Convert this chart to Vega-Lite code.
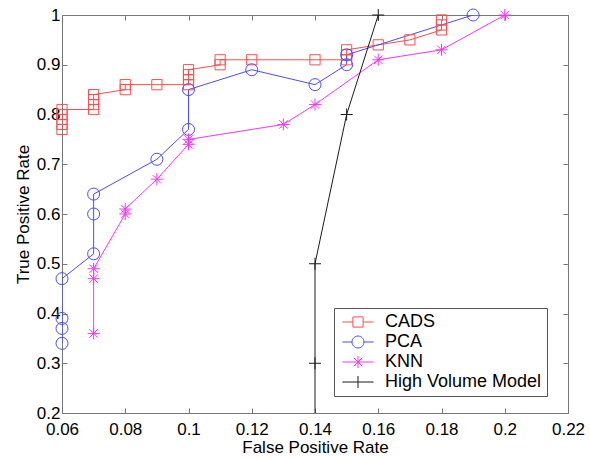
{
  "$schema": "https://vega.github.io/schema/vega-lite/v6.json",
  "width": 506,
  "height": 398,
  "autosize": "none",
  "padding": {"left": 62, "top": 15, "right": 22, "bottom": 47},
  "background": "white",
  "config": {
    "view": {"stroke": "#777777", "strokeWidth": 1},
    "font": "Liberation Sans",
    "axis": {
      "grid": false,
      "domain": false,
      "tickColor": "#777777",
      "tickSize": -5,
      "labelFontSize": 17,
      "labelColor": "black",
      "labelFont": "Liberation Sans",
      "titleFont": "Liberation Sans",
      "titleFontSize": 17,
      "titleFontWeight": "normal",
      "titleColor": "black"
    },
    "legend": {
      "orient": "none",
      "legendX": 272,
      "legendY": 293,
      "title": null,
      "fillColor": "white",
      "strokeColor": "#555555",
      "padding": 5,
      "symbolSize": 144,
      "symbolStrokeWidth": 1,
      "symbolOffset": 10,
      "labelOffset": 18,
      "labelFontSize": 18,
      "labelFont": "Liberation Sans",
      "labelColor": "black",
      "rowPadding": 2
    }
  },
  "data": {
    "values": [
      {"method": "CADS", "fpr": 0.06, "tpr": 0.77, "ord": 1},
      {"method": "CADS", "fpr": 0.06, "tpr": 0.78, "ord": 2},
      {"method": "CADS", "fpr": 0.06, "tpr": 0.79, "ord": 3},
      {"method": "CADS", "fpr": 0.06, "tpr": 0.80, "ord": 4},
      {"method": "CADS", "fpr": 0.06, "tpr": 0.81, "ord": 5},
      {"method": "CADS", "fpr": 0.07, "tpr": 0.81, "ord": 6},
      {"method": "CADS", "fpr": 0.07, "tpr": 0.82, "ord": 7},
      {"method": "CADS", "fpr": 0.07, "tpr": 0.83, "ord": 8},
      {"method": "CADS", "fpr": 0.07, "tpr": 0.84, "ord": 9},
      {"method": "CADS", "fpr": 0.08, "tpr": 0.85, "ord": 10},
      {"method": "CADS", "fpr": 0.08, "tpr": 0.86, "ord": 11},
      {"method": "CADS", "fpr": 0.09, "tpr": 0.86, "ord": 12},
      {"method": "CADS", "fpr": 0.10, "tpr": 0.86, "ord": 13},
      {"method": "CADS", "fpr": 0.10, "tpr": 0.87, "ord": 14},
      {"method": "CADS", "fpr": 0.10, "tpr": 0.88, "ord": 15},
      {"method": "CADS", "fpr": 0.10, "tpr": 0.89, "ord": 16},
      {"method": "CADS", "fpr": 0.11, "tpr": 0.90, "ord": 17},
      {"method": "CADS", "fpr": 0.11, "tpr": 0.91, "ord": 18},
      {"method": "CADS", "fpr": 0.12, "tpr": 0.91, "ord": 19},
      {"method": "CADS", "fpr": 0.14, "tpr": 0.91, "ord": 20},
      {"method": "CADS", "fpr": 0.15, "tpr": 0.91, "ord": 21},
      {"method": "CADS", "fpr": 0.15, "tpr": 0.92, "ord": 22},
      {"method": "CADS", "fpr": 0.15, "tpr": 0.93, "ord": 23},
      {"method": "CADS", "fpr": 0.16, "tpr": 0.94, "ord": 24},
      {"method": "CADS", "fpr": 0.17, "tpr": 0.95, "ord": 25},
      {"method": "CADS", "fpr": 0.18, "tpr": 0.97, "ord": 26},
      {"method": "CADS", "fpr": 0.18, "tpr": 0.98, "ord": 27},
      {"method": "CADS", "fpr": 0.18, "tpr": 0.99, "ord": 28},
      {"method": "PCA", "fpr": 0.06, "tpr": 0.34, "ord": 1},
      {"method": "PCA", "fpr": 0.06, "tpr": 0.37, "ord": 2},
      {"method": "PCA", "fpr": 0.06, "tpr": 0.39, "ord": 3},
      {"method": "PCA", "fpr": 0.06, "tpr": 0.47, "ord": 4},
      {"method": "PCA", "fpr": 0.07, "tpr": 0.52, "ord": 5},
      {"method": "PCA", "fpr": 0.07, "tpr": 0.60, "ord": 6},
      {"method": "PCA", "fpr": 0.07, "tpr": 0.64, "ord": 7},
      {"method": "PCA", "fpr": 0.09, "tpr": 0.71, "ord": 8},
      {"method": "PCA", "fpr": 0.10, "tpr": 0.77, "ord": 9},
      {"method": "PCA", "fpr": 0.10, "tpr": 0.85, "ord": 10},
      {"method": "PCA", "fpr": 0.12, "tpr": 0.89, "ord": 11},
      {"method": "PCA", "fpr": 0.14, "tpr": 0.86, "ord": 12},
      {"method": "PCA", "fpr": 0.15, "tpr": 0.90, "ord": 13},
      {"method": "PCA", "fpr": 0.15, "tpr": 0.92, "ord": 14},
      {"method": "PCA", "fpr": 0.19, "tpr": 1.00, "ord": 15},
      {"method": "KNN", "fpr": 0.07, "tpr": 0.36, "ord": 1},
      {"method": "KNN", "fpr": 0.07, "tpr": 0.47, "ord": 2},
      {"method": "KNN", "fpr": 0.07, "tpr": 0.49, "ord": 3},
      {"method": "KNN", "fpr": 0.08, "tpr": 0.60, "ord": 4},
      {"method": "KNN", "fpr": 0.08, "tpr": 0.61, "ord": 5},
      {"method": "KNN", "fpr": 0.09, "tpr": 0.67, "ord": 6},
      {"method": "KNN", "fpr": 0.10, "tpr": 0.74, "ord": 7},
      {"method": "KNN", "fpr": 0.10, "tpr": 0.75, "ord": 8},
      {"method": "KNN", "fpr": 0.13, "tpr": 0.78, "ord": 9},
      {"method": "KNN", "fpr": 0.14, "tpr": 0.82, "ord": 10},
      {"method": "KNN", "fpr": 0.16, "tpr": 0.91, "ord": 11},
      {"method": "KNN", "fpr": 0.18, "tpr": 0.93, "ord": 12},
      {"method": "KNN", "fpr": 0.20, "tpr": 1.00, "ord": 13},
      {"method": "High Volume Model", "fpr": 0.14, "tpr": 0.0, "ord": 1},
      {"method": "High Volume Model", "fpr": 0.14, "tpr": 0.3, "ord": 2},
      {"method": "High Volume Model", "fpr": 0.14, "tpr": 0.5, "ord": 3},
      {"method": "High Volume Model", "fpr": 0.15, "tpr": 0.8, "ord": 4},
      {"method": "High Volume Model", "fpr": 0.16, "tpr": 1.0, "ord": 5}
    ]
  },
  "layer": [
    {
      "mark": {"type": "line", "strokeWidth": 1, "clip": true},
      "encoding": {
        "x": {
          "field": "fpr", "type": "quantitative",
          "scale": {"domain": [0.06, 0.22], "nice": false, "zero": false},
          "axis": {
            "orient": "bottom",
            "values": [0.06, 0.08, 0.1, 0.12, 0.14, 0.16, 0.18, 0.2, 0.22],
            "format": "~g",
            "title": "False Positive Rate",
            "labelPadding": 13,
            "titlePadding": 2,
            "labelFlush": false
          }
        },
        "y": {
          "field": "tpr", "type": "quantitative",
          "scale": {"domain": [0.2, 1.0], "nice": false, "zero": false},
          "axis": {
            "orient": "left",
            "values": [0.2, 0.3, 0.4, 0.5, 0.6, 0.7, 0.8, 0.9, 1.0],
            "format": "~g",
            "title": "True Positive Rate",
            "labelPadding": 7,
            "titlePadding": 4,
            "labelFlush": false
          }
        },
        "color": {
          "field": "method", "type": "nominal",
          "scale": {
            "domain": ["CADS", "PCA", "KNN", "High Volume Model"],
            "range": ["#ff4d4d", "#4d4dff", "#ff33ff", "#1a1a1a"]
          },
          "legend": null
        },
        "order": {"field": "ord", "type": "quantitative"}
      }
    },
    {
      "transform": [{"filter": "datum.tpr >= 0.2"}],
      "mark": {"type": "point", "filled": false, "strokeWidth": 1, "size": 144, "opacity": 1},
      "encoding": {
        "x": {
          "field": "fpr", "type": "quantitative",
          "axis": {
            "orient": "top",
            "values": [0.06, 0.08, 0.1, 0.12, 0.14, 0.16, 0.18, 0.2, 0.22],
            "labels": false,
            "title": null
          }
        },
        "y": {
          "field": "tpr", "type": "quantitative",
          "axis": {
            "orient": "right",
            "values": [0.2, 0.3, 0.4, 0.5, 0.6, 0.7, 0.8, 0.9, 1.0],
            "labels": false,
            "title": null
          }
        },
        "color": {
          "field": "method", "type": "nominal",
          "scale": {
            "domain": ["CADS", "PCA", "KNN", "High Volume Model"],
            "range": ["#ff4d4d", "#4d4dff", "#ff33ff", "#1a1a1a"]
          },
          "legend": null
        },
        "shape": {
          "field": "method", "type": "nominal",
          "scale": {
            "domain": ["CADS", "PCA", "KNN", "High Volume Model"],
            "range": ["M-0.85,-0.85H0.85V0.85H-0.85Z", "circle", "M0,-1V1M-1,0H1M-0.7,-0.7L0.7,0.7M-0.7,0.7L0.7,-0.7", "M-1,0H1M0,-1V1"]
          },
          "legend": null
        }
      }
    },
    {
      "transform": [{"filter": "datum.tpr > 5"}],
      "mark": {"type": "point", "filled": false, "strokeWidth": 1, "size": 144, "opacity": 1},
      "encoding": {
        "x": {"field": "fpr", "type": "quantitative", "axis": null},
        "y": {"field": "tpr", "type": "quantitative", "axis": null},
        "color": {
          "field": "method", "type": "nominal",
          "scale": {
            "domain": ["CADS", "PCA", "KNN", "High Volume Model"],
            "range": ["#ff4d4d", "#4d4dff", "#ff33ff", "#1a1a1a"]
          }
        },
        "shape": {
          "field": "method", "type": "nominal",
          "scale": {
            "domain": ["CADS", "PCA", "KNN", "High Volume Model"],
            "range": [
              "M-2.6,0H-0.85M0.85,0H2.6M-0.85,-0.85H0.85V0.85H-0.85Z",
              "M-2.6,0H-1M1,0H2.6M1,0A1,1,0,1,1,-1,0A1,1,0,1,1,1,0Z",
              "M-2.6,0H2.6M0,-1V1M-0.7,-0.7L0.7,0.7M-0.7,0.7L0.7,-0.7",
              "M-2.6,0H2.6M0,-1V1"
            ]
          }
        }
      }
    }
  ],
  "resolve": {
    "axis": {"x": "independent", "y": "independent"},
    "scale": {"shape": "independent", "color": "independent"},
    "legend": {"shape": "independent", "color": "independent"}
  }
}
